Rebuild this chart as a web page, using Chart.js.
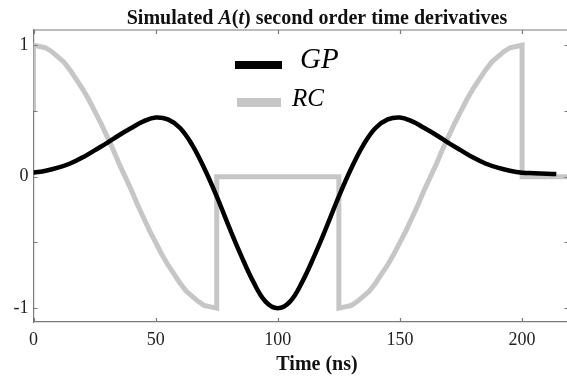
<!DOCTYPE html>
<html><head><meta charset="utf-8">
<script src="https://cdn.jsdelivr.net/npm/chart.js@4.4.1/dist/chart.umd.min.js"></script>
<style>html,body{margin:0;padding:0;overflow:hidden;background:#fff}#wrap{width:572px;height:379px;position:relative}</style>
</head><body><div id="wrap"><canvas id="c" width="572" height="379"></canvas></div>
<script>
const seriesNames = ['GP', 'RC'];
const gpTime = [0,5,10,15,20,25,30,35,40,45,50,55,60,65,70,75,80,85,90,95,100,105,110,115,120,125,130,135,140,145,150,155,160,165,170,175,180,185,190,195,200,205,210,214];
const gpValues = [0.03,0.045,0.068,0.10,0.145,0.2,0.255,0.315,0.37,0.42,0.45,0.435,0.37,0.24,0.06,-0.15,-0.38,-0.6,-0.8,-0.95,-1,-0.95,-0.8,-0.6,-0.38,-0.15,0.06,0.24,0.37,0.435,0.45,0.42,0.37,0.315,0.255,0.2,0.145,0.10,0.068,0.045,0.03,0.026,0.022,0.02];
const rcTime = [0,0,2.5,5,7.5,10,12.5,15,17.5,20,22.5,25,27.5,30,32.5,35,37.5,40,42.5,45,47.5,50,52.5,55,57.5,60,62.5,65,67.5,70,72.5,75,75,125,125,127.5,130,132.5,135,137.5,140,142.5,145,147.5,150,152.5,155,157.5,160,162.5,165,167.5,170,172.5,175,177.5,180,182.5,185,187.5,190,192.5,195,197.5,200,200,219];
const rcValues = [0.5,1,0.99,0.98,0.95,0.91,0.87,0.81,0.74,0.67,0.59,0.5,0.41,0.31,0.21,0.1,0,-0.1,-0.21,-0.31,-0.41,-0.5,-0.59,-0.67,-0.74,-0.81,-0.87,-0.91,-0.95,-0.98,-0.99,-1,0,0,-1,-0.99,-0.98,-0.95,-0.91,-0.87,-0.81,-0.74,-0.67,-0.59,-0.5,-0.41,-0.31,-0.21,-0.1,0,0.1,0.21,0.31,0.41,0.5,0.59,0.67,0.74,0.81,0.87,0.91,0.95,0.98,0.99,1,0,0];
const xTickValues = [0,50,100,150,200];
const yTickValues = [-1,0,1];
const yMinorTickValues = [-1,-0.5,0,0.5,1];
const titleParts = [['Simulated ', 'bold'], ['A', 'italic bold'], ['(', 'bold'], ['t', 'italic bold'], [')', 'bold'], [' second order time derivatives', 'bold']];
const xTitle = 'Time (ns)';

const SERIF = '"Liberation Serif","Times New Roman",serif';
const AXIS = '#7a7a7a';
const RC_COLOR = '#c6c6c6';

function pairs(xs, ys){ return xs.map((x,i)=>({x:x,y:ys[i]})); }

const decor = {
  id:'decor',
  afterDraw(chart){
    const ctx = chart.ctx, a = chart.chartArea;
    const xs = chart.scales.x, ys = chart.scales.y;
    ctx.save();
    ctx.strokeStyle = AXIS; ctx.lineWidth = 1.2;
    ctx.beginPath();
    ctx.moveTo(a.left, a.top); ctx.lineTo(a.right, a.top);
    ctx.moveTo(a.right, a.top); ctx.lineTo(a.right, a.bottom);
    for (const v of xTickValues){
      const px = Math.round(xs.getPixelForValue(v))+0.5;
      ctx.moveTo(px, a.bottom); ctx.lineTo(px, a.bottom-4);
      ctx.moveTo(px, a.top); ctx.lineTo(px, a.top+4);
    }
    for (const v of yMinorTickValues){
      const py = Math.round(ys.getPixelForValue(v))+0.5;
      ctx.moveTo(a.left, py); ctx.lineTo(a.left+4, py);
      ctx.moveTo(a.right, py); ctx.lineTo(a.right-4, py);
    }
    ctx.stroke();
    // title
    ctx.fillStyle = '#111';
    ctx.textBaseline = 'alphabetic';
    let total = 0;
    for (const [t,s] of titleParts){ ctx.font = s+' 20px '+SERIF; total += ctx.measureText(t).width; }
    let x = 317 - total/2;
    for (const [t,s] of titleParts){ ctx.font = s+' 20px '+SERIF; ctx.fillText(t, x, 24); x += ctx.measureText(t).width; }
    // x axis title
    ctx.font = 'bold 20px '+SERIF; ctx.textAlign = 'center';
    ctx.fillText(xTitle, 317, 370);
    // legend
    ctx.textAlign = 'left';
    ctx.lineCap = 'butt';
    ctx.strokeStyle = '#000'; ctx.lineWidth = 8;
    ctx.beginPath(); ctx.moveTo(235,65); ctx.lineTo(282,65); ctx.stroke();
    ctx.strokeStyle = RC_COLOR; ctx.lineWidth = 9;
    ctx.beginPath(); ctx.moveTo(237,102.5); ctx.lineTo(281,102.5); ctx.stroke();
    ctx.fillStyle = '#000';
    ctx.font = 'italic 29px '+SERIF; ctx.fillText(seriesNames[0], 300, 68);
    ctx.font = 'italic 25px '+SERIF; ctx.fillText(seriesNames[1], 292, 106);
    ctx.restore();
  }
};

new Chart(document.getElementById('c'), {
  type:'scatter',
  data:{datasets:[
    {label:seriesNames[0], data:pairs(gpTime,gpValues), showLine:true, borderColor:'#000', borderWidth:4.5, pointRadius:0, tension:0.4, clip:0},
    {label:seriesNames[1], data:pairs(rcTime,rcValues), showLine:true, borderColor:RC_COLOR, borderWidth:5, pointRadius:0, tension:0, borderJoinStyle:'miter', clip:0}
  ]},
  options:{
    responsive:false, animation:false,
    layout:{padding:{top:30, right:3.5, left:0, bottom:0}},
    plugins:{legend:{display:false}, tooltip:{enabled:false}, title:{display:false}},
    scales:{
      x:{type:'linear', min:0, max:219,
        afterBuildTicks(s){ s.ticks = xTickValues.map(v=>({value:v})); },
        afterFit(s){ s.height = 57; },
        grid:{display:false, drawTicks:false},
        border:{display:true, color:AXIS, width:1.2},
        ticks:{font:{family:SERIF, size:18}, color:'#222', padding:7, maxRotation:0, callback:v=>String(v)}
      },
      y:{type:'linear', min:-1.105, max:1.115,
        afterBuildTicks(s){ s.ticks = yTickValues.map(v=>({value:v})); },
        afterFit(s){ s.width = 33.5; },
        grid:{display:false, drawTicks:false},
        border:{display:true, color:AXIS, width:1.2},
        ticks:{font:{family:SERIF, size:18}, color:'#222', padding:5, callback:v=>String(v)}
      }
    }
  },
  plugins:[decor]
});
</script></body></html>
